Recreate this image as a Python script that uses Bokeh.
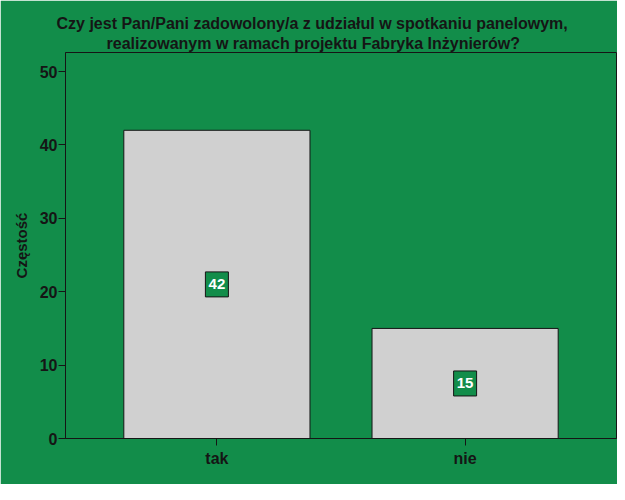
from bokeh.plotting import figure
from bokeh.models import FactorRange, Range1d, Title, ColumnDataSource
from bokeh.core.properties import value
from bokeh.embed import file_html
from bokeh.resources import INLINE

categories = ["tak", "nie"]
counts = [42, 15]
y_ticks = [0, 10, 20, 30, 40, 50]
title_line1 = "Czy jest Pan/Pani zadowolony/a z udziałul w spotkaniu panelowym,"
title_line2 = "realizowanym w ramach projektu Fabryka Inżynierów?"
y_label = "Częstość"

GREEN = "#128D4A"
BAR = "#D0D0D0"
DARK = "#151515"
FONT = "Liberation Sans"

p = figure(width=617, height=484, output_backend="svg", toolbar_location=None,
           x_range=FactorRange(factors=categories, range_padding=0.11, range_padding_units="absolute"),
           y_range=Range1d(0, 52.6),
           min_border_left=65, min_border_right=1, min_border_top=52, min_border_bottom=46)

p.background_fill_color = GREEN
p.border_fill_color = GREEN
p.outline_line_color = DARK
p.outline_line_width = 1
p.grid.visible = False

src = ColumnDataSource(dict(cat=categories, cnt=counts,
                            mid=[c / 2 for c in counts],
                            lbl=[str(c) for c in counts]))

p.vbar(x="cat", top="cnt", bottom=0, width=0.75, source=src,
       fill_color=BAR, line_color=DARK, line_width=1)

p.rect(x="cat", y="mid", width=23, height=25, width_units="screen", height_units="screen",
       source=src, fill_color=GREEN, line_color=DARK, line_width=1)
p.text(x="cat", y="mid", text="lbl", source=src, text_align="center", text_baseline="middle",
       text_color="white", text_font=value(FONT), text_font_style="bold", text_font_size="15px")

p.yaxis.ticker = y_ticks
p.yaxis.axis_label = y_label
for ax in (p.xaxis[0], p.yaxis[0]):
    ax.axis_line_color = DARK
    ax.major_tick_line_color = DARK
    ax.minor_tick_line_color = None
    ax.major_tick_in = 0
    ax.major_tick_out = 7
    ax.major_label_text_font = FONT
    ax.major_label_text_font_style = "bold"
    ax.major_label_text_font_size = "16px"
    ax.major_label_text_color = DARK
    ax.axis_label_text_font = FONT
    ax.axis_label_text_font_style = "bold"
    ax.axis_label_text_font_size = "15px"
    ax.axis_label_text_color = DARK
p.yaxis.major_label_standoff = 1
p.yaxis.axis_label_standoff = 7
p.xaxis.major_label_standoff = 4

p.title = Title(text=title_line1, align="left", offset=-9,
                text_font=FONT, text_font_style="bold", text_font_size="16px",
                text_color=DARK, standoff=0)
p.add_layout(Title(text=title_line2, align="left", offset=41,
                   text_font=FONT, text_font_style="bold", text_font_size="16px",
                   text_color=DARK, standoff=2), "above")

html = file_html(p, INLINE)
html = html.replace("<body>", '<body style="background:%s;">' % GREEN, 1)
open("out.html", "w").write(html)
